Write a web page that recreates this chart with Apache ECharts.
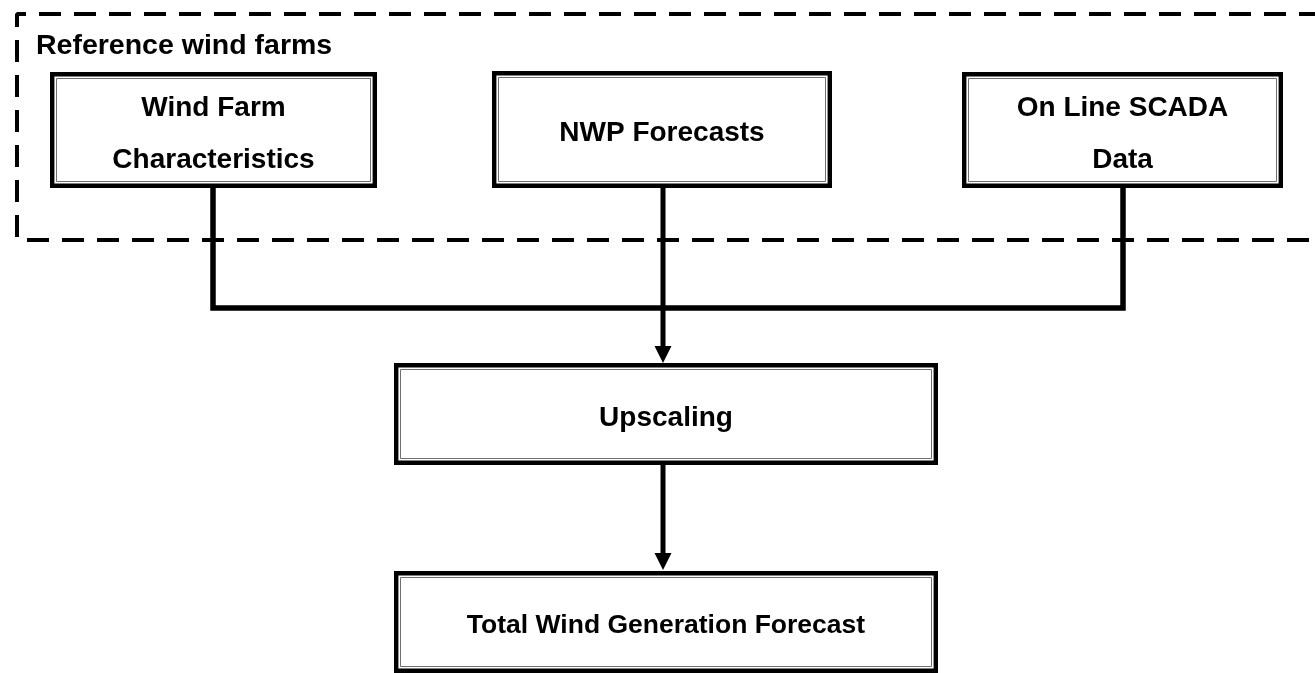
<!DOCTYPE html>
<html>
<head>
<meta charset="utf-8">
<script src="https://cdn.jsdelivr.net/npm/echarts@6/dist/echarts.min.js"></script>
<style>
  html, body { margin: 0; padding: 0; background: #fff; }
  #chart { width: 1315px; height: 673px; }
</style>
</head>
<body>
<div id="chart"></div>
<script>
// diagram drawn on a hidden value grid (x 0..1315, y 0..673 top-down)
var groupTitle = "Reference wind farms";

// box label lines
var boxLabels = [
    ["Wind Farm", "Characteristics"],
    ["NWP Forecasts"],
    ["On Line SCADA", "Data"],
    ["Upscaling"],
    ["Total Wind Generation Forecast"]
];
// box extents [x0, y0, x1, y1]
var boxX0 = [50, 492, 962, 394, 394];
var boxY0 = [72, 71, 72, 363, 571];
var boxX1 = [377, 832, 1283, 938, 938];
var boxY1 = [188, 188, 188, 465, 673];

// dashed group frame (open on the right)
var frameX = [1315, 17, 17, 1315];
var frameY = [14, 14, 240, 240];

// collecting bus from the two side boxes
var busX = [213, 213, 1123, 1123];
var busY = [188, 308, 308, 188];

// arrows [x, yFrom, yTo]
var arrowX = [663, 663];
var arrowFrom = [188, 465];
var arrowTo = [363, 570];

var fontFam = "Liberation Sans";

var chart = echarts.init(document.getElementById("chart"), null, { renderer: "canvas" });

function renderBox(params, api) {
    var p0 = api.coord([api.value(0), api.value(1)]);
    var p1 = api.coord([api.value(2), api.value(3)]);
    var w = p1[0] - p0[0];
    var h = p1[1] - p0[1];
    var lines = boxLabels[params.dataIndex];
    var size = params.dataIndex == 4 ? 26.5 : 28;
    var gap = 52;
    var cx = p0[0] + w / 2;
    var cy = p0[1] + h / 2 + 4;
    var kids = [
        {
            type: "rect",
            shape: { x: p0[0] + 2.2, y: p0[1] + 2.2, width: w - 4.4, height: h - 4.4 },
            style: { fill: "#fff", stroke: "#000", lineWidth: 4.4 }
        },
        {
            type: "rect",
            shape: { x: p0[0] + 6.5, y: p0[1] + 6.5, width: w - 13, height: h - 13 },
            style: { fill: null, stroke: "#707070", lineWidth: 1 }
        }
    ];
    lines.forEach(function (t, i) {
        kids.push({
            type: "text",
            style: {
                text: t,
                x: cx,
                y: cy + (i - (lines.length - 1) / 2) * gap,
                align: "center",
                verticalAlign: "middle",
                fill: "#000",
                fontFamily: fontFam,
                fontWeight: "bold",
                fontSize: size
            }
        });
    });
    return { type: "group", children: kids };
}

function renderArrow(params, api) {
    var a = api.coord([api.value(0), api.value(1)]);
    var b = api.coord([api.value(0), api.value(2)]);
    var head = 17;
    var half = 8.5;
    return {
        type: "group",
        children: [
            {
                type: "line",
                shape: { x1: a[0], y1: a[1], x2: b[0], y2: b[1] - head + 1 },
                style: { stroke: "#000", lineWidth: 5 }
            },
            {
                type: "polygon",
                shape: { points: [[b[0] - half, b[1] - head], [b[0] + half, b[1] - head], [b[0], b[1]]] },
                style: { fill: "#000" }
            }
        ]
    };
}

chart.setOption({
    animation: false,
    backgroundColor: "#fff",
    grid: { left: 0, right: 0, top: 0, bottom: 0 },
    xAxis: { type: "value", min: 0, max: 1315, show: false },
    yAxis: { type: "value", min: 0, max: 673, inverse: true, show: false },
    graphic: [
        {
            type: "text",
            left: 36,
            top: 32,
            style: {
                text: groupTitle,
                fill: "#000",
                fontFamily: fontFam,
                fontWeight: "bold",
                fontSize: 28.5
            }
        }
    ],
    series: [
        {
            type: "line",
            data: frameX.map(function (x, i) { return [x, frameY[i]]; }),
            symbol: "none",
            clip: false,
            lineStyle: { color: "#000", width: 4, type: [22, 13], dashOffset: 6 },
            z: 1
        },
        {
            type: "line",
            data: busX.map(function (x, i) { return [x, busY[i]]; }),
            symbol: "none",
            lineStyle: { color: "#000", width: 5.5, join: "miter", cap: "butt" },
            z: 2
        },
        {
            type: "custom",
            renderItem: renderArrow,
            data: arrowX.map(function (x, i) { return [x, arrowFrom[i], arrowTo[i]]; }),
            z: 3
        },
        {
            type: "custom",
            renderItem: renderBox,
            data: boxX0.map(function (x, i) { return [x, boxY0[i], boxX1[i], boxY1[i]]; }),
            z: 4
        }
    ]
});
</script>
</body>
</html>
